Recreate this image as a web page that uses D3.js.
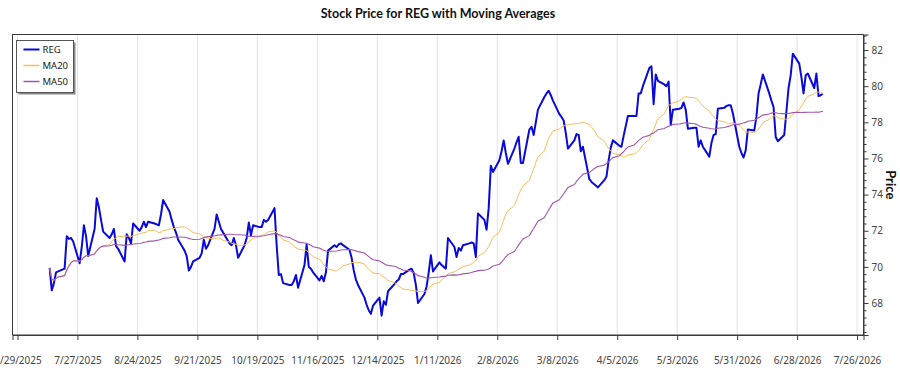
<!DOCTYPE html>
<html>
<head>
<meta charset="utf-8">
<script src="https://cdn.jsdelivr.net/npm/d3@7"></script>
<style>
  body { margin: 0; background: #fff; }
  svg { font-family: Lato, "Noto Sans", sans-serif; }
</style>
</head>
<body>
<svg id="drawing_region"></svg>
<script>
// first trading day of the series (weekdays only after this)
const startDate = '2025-07-14';

// REG closing prices, one row per trading week (Mon..Fri)
const regPrice = [
    69.95, 68.7, 69.1, 69.7, 69.75,
    69.9, 71.7, 71.55, 71.6, 71.4,
    70.2, 71.1, 72.3, 71.7, 70.6,
    72.1, 73.8, 73.3, 72.6, 71.95,
    71.6, 71.8, 72.1, 71.15, 71.0,
    70.3, 71.8, 71.6, 71.3, 72.4,
    72.0, 72.2, 72.5, 72.2, 72.5,
    72.4, 72.35, 72.3, 72.9, 73.7,
    73.05, 72.6, 72.2, 71.9, 71.5,
    70.9, 70.6, 69.8, 70.0, 70.3,
    70.5, 70.75, 71.5, 71.0, 71.2,
    72.1, 72.9, 72.5, 72.1, 71.9,
    71.3, 71.2, 71.6, 71.2, 70.5,
    71.2, 71.6, 72.45, 71.75, 72.3,
    72.2, 72.2, 72.6, 72.5, 72.6,
    73.25, 71.2, 69.55, 69.6, 69.1,
    69.0, 69.0, 69.2, 69.55, 68.85,
    70.1, 71.25, 70.0, 69.9, 69.7,
    69.25, 69.5, 69.2, 69.7, 70.9,
    71.2, 71.1, 71.25, 71.3, 71.2,
    70.95, 70.5, 69.8, 69.3, 69.0,
    68.3, 67.9, 67.6, 67.4, 67.85,
    68.3, 67.3, 68.1, 67.9, 68.65,
    69.05, 69.2, 69.3, 69.6, 69.6,
    69.85, 69.9, 69.65, 69.0, 68.0,
    68.5, 68.9, 69.7, 70.65, 69.75,
    70.25, 70.1, 70.0, 69.9, 71.6,
    71.1, 70.55, 71.05, 70.9, 71.2,
    71.3, 71.35, 71.3, 70.55, 72.95,
    72.6, 72.05, 73.25, 75.6, 75.25,
    75.9, 76.4, 77.0, 76.3, 75.7,
    76.55, 76.9, 77.2, 75.75, 75.75,
    77.6, 77.75, 77.3, 78.0, 78.7,
    79.4, 79.6, 79.75, 79.5, 79.2,
    78.45, 78.3, 78.1, 77.4, 76.55,
    77.0, 77.35, 77.3, 76.4, 76.65,
    74.85, 74.7, 74.6, 74.5, 74.4,
    74.8, 75.0, 75.9, 76.6, 77.0,
    76.7, 76.65, 77.25, 77.8, 78.35,
    78.35, 78.35, 79.6, 79.6, 80.0,
    81.0, 81.1, 79.0, 80.65, 80.3,
    80.1, 80.0, 80.25, 77.85, 78.7,
    78.75, 78.8, 79.1, 78.7, 77.65,
    77.7, 77.7, 76.65, 77.0, 76.65,
    76.1, 76.85, 77.3, 77.35, 78.75,
    78.8, 78.9, 78.95, 78.95, 78.5,
    76.65, 76.3, 76.05, 76.45, 77.6,
    77.55, 78.3, 79.6, 80.1, 80.65,
    79.6, 79.2, 78.85, 77.2, 76.95,
    77.3, 78.6, 79.9, 80.6, 81.8,
    81.25, 80.5, 79.6, 80.6, 80.7,
    79.9, 80.7, 79.45, 79.5, 79.6
];

const seriesNames = ['REG', 'MA20', 'MA50'];
const maWindows = [20, 50];
const xTickLabels = ['6/29/2025', '7/27/2025', '8/24/2025', '9/21/2025', '10/19/2025', '11/16/2025',
    '12/14/2025', '1/11/2026', '2/8/2026', '3/8/2026', '4/5/2026', '5/3/2026', '5/31/2026',
    '6/28/2026', '7/26/2026'];
const yTickValues = [68, 70, 72, 74, 76, 78, 80, 82];
const xDomain = ['2025-06-26T16:00', '2026-07-29T00:00'];
const yDomain = [66.23, 82.86];

class StockChart {
    constructor(config, data) {
        this.config = {
            parent: config.parent,
            width: config.width || 900,
            height: config.height || 375,
            margin: config.margin || {top: 34.5, right: 36.5, bottom: 40, left: 12.5},
            title: config.title || 'Chart Title'
        };
        this.data = data;
        this.init();
    }

    init() {
        let self = this;

        self.svg = d3.select(self.config.parent)
            .attr('width', self.config.width)
            .attr('height', self.config.height);

        self.inner_width = self.config.width - self.config.margin.left - self.config.margin.right;
        self.inner_height = self.config.height - self.config.margin.top - self.config.margin.bottom;

        self.chart = self.svg.append('g')
            .attr('transform', `translate(${self.config.margin.left}, ${self.config.margin.top})`);

        self.xscale = d3.scaleUtc()
            .domain(xDomain.map(s => new Date(s + 'Z')))
            .range([0, self.inner_width]);

        self.yscale = d3.scaleLinear()
            .domain(yDomain)
            .range([self.inner_height, 0]);

        self.color = ['#0a0ad8', '#f5bf5a', '#a257ad'];
        self.stroke = [2, 1, 1.1];
    }

    update() {
        let self = this;

        // trading days: weekdays from the start date
        const parse = d3.utcParse('%Y-%m-%d');
        const days = d3.utcDay.range(parse(startDate), d3.utcDay.offset(parse(startDate), 400))
            .filter(d => d.getUTCDay() !== 0 && d.getUTCDay() !== 6)
            .slice(0, self.data.length);

        const rolling = (n) => self.data.map((_, i) =>
            d3.mean(self.data.slice(Math.max(0, i - n + 1), i + 1)));

        self.series = [self.data, rolling(maWindows[0]), rolling(maWindows[1])]
            .map(vals => vals.map((v, i) => ({date: days[i], value: v})));

        self.xticks = xTickLabels.map(s => d3.utcParse('%m/%d/%Y')(s));

        self.render();
    }

    render() {
        let self = this;

        // vertical grid
        self.chart.append('g')
            .selectAll('line')
            .data(self.xticks)
            .join('line')
            .attr('x1', d => self.xscale(d))
            .attr('x2', d => self.xscale(d))
            .attr('y1', 0)
            .attr('y2', self.inner_height)
            .attr('stroke', '#e3e3e3')
            .attr('stroke-width', 1);

        // frame
        self.chart.append('rect')
            .attr('x', 0)
            .attr('y', 0)
            .attr('width', self.inner_width)
            .attr('height', self.inner_height)
            .attr('fill', 'none')
            .attr('stroke', '#3a3a3a')
            .attr('stroke-width', 1);

        // lines
        const line = d3.line()
            .x(d => self.xscale(d.date))
            .y(d => self.yscale(d.value));

        self.chart.append('g')
            .selectAll('path')
            .data(self.series)
            .join('path')
            .attr('d', line)
            .attr('fill', 'none')
            .attr('stroke', (d, i) => self.color[i])
            .attr('stroke-width', (d, i) => self.stroke[i])
            .attr('stroke-linejoin', 'round');

        // bottom axis
        const xaxis = d3.axisBottom(self.xscale)
            .tickValues(self.xticks)
            .tickSize(5)
            .tickPadding(17)
            .tickFormat(d => `${d.getUTCMonth() + 1}/${d.getUTCDate()}/${d.getUTCFullYear()}`);

        self.chart.append('g')
            .attr('transform', `translate(0, ${self.inner_height})`)
            .call(xaxis)
            .call(g => g.select('.domain').attr('stroke', '#3a3a3a'))
            .call(g => g.selectAll('.tick line').attr('stroke', '#3a3a3a'))
            .call(g => g.selectAll('text')
                .attr('fill', '#444')
                .attr('font-size', '10px')
                .attr('font-family', '"Noto Sans", sans-serif'));

        // right axis, minor ticks then major ones
        const minor = d3.range(66.4, 82.9, 0.4).filter(v => !yTickValues.some(t => Math.abs(t - v) < 0.01));

        self.chart.append('g')
            .attr('transform', `translate(${self.inner_width}, 0)`)
            .call(d3.axisRight(self.yscale).tickValues(minor).tickSize(3).tickFormat(''))
            .call(g => g.select('.domain').remove())
            .call(g => g.selectAll('.tick line').attr('stroke', '#3a3a3a'));

        self.chart.append('g')
            .attr('transform', `translate(${self.inner_width}, 0)`)
            .call(d3.axisRight(self.yscale).tickValues(yTickValues).tickSize(5).tickPadding(3))
            .call(g => g.select('.domain').attr('stroke', '#3a3a3a'))
            .call(g => g.selectAll('.tick line').attr('stroke', '#3a3a3a'))
            .call(g => g.selectAll('text')
                .attr('fill', '#444')
                .attr('font-size', '10px')
                .attr('font-family', '"Noto Sans", sans-serif'));

        // axis title
        self.svg.append('text')
            .attr('transform', `translate(${self.config.width - 14}, ${self.config.margin.top + self.inner_height / 2}) rotate(90)`)
            .attr('text-anchor', 'middle')
            .attr('font-weight', 'bold')
            .attr('font-size', '13px')
            .attr('fill', '#111')
            .text('Price');

        // chart title
        self.svg.append('text')
            .attr('x', self.config.margin.left + self.inner_width / 2)
            .attr('y', 18)
            .attr('text-anchor', 'middle')
            .attr('font-weight', 'bold')
            .attr('font-size', '12.5px')
            .attr('fill', '#111')
            .text(self.config.title);

        // legend with drop shadow
        const legend = self.svg.append('g')
            .attr('transform', 'translate(16.5, 40.5)');

        legend.append('rect')
            .attr('x', 2)
            .attr('y', 2)
            .attr('width', 57)
            .attr('height', 52)
            .attr('fill', '#888');

        legend.append('rect')
            .attr('width', 57)
            .attr('height', 52)
            .attr('fill', '#fff')
            .attr('stroke', '#555');

        const item = legend.selectAll('.item')
            .data(seriesNames)
            .join('g')
            .attr('transform', (d, i) => `translate(0, ${9 + i * 16})`);

        item.append('line')
            .attr('x1', 7)
            .attr('x2', 23)
            .attr('stroke', (d, i) => self.color[i])
            .attr('stroke-width', (d, i) => self.stroke[i] === 2 ? 2 : 1.5);

        item.append('text')
            .attr('x', 26)
            .attr('dy', '0.35em')
            .attr('font-size', '9.5px')
            .attr('font-family', '"Noto Sans", sans-serif')
            .attr('fill', '#222')
            .text(d => d);
    }
}

const config = {
    parent: '#drawing_region',
    width: 900,
    height: 375,
    margin: {top: 34.5, right: 36.5, bottom: 40, left: 12.5},
    title: 'Stock Price for REG with Moving Averages'
};

const stock_chart = new StockChart(config, regPrice);
stock_chart.update();
</script>
</body>
</html>
